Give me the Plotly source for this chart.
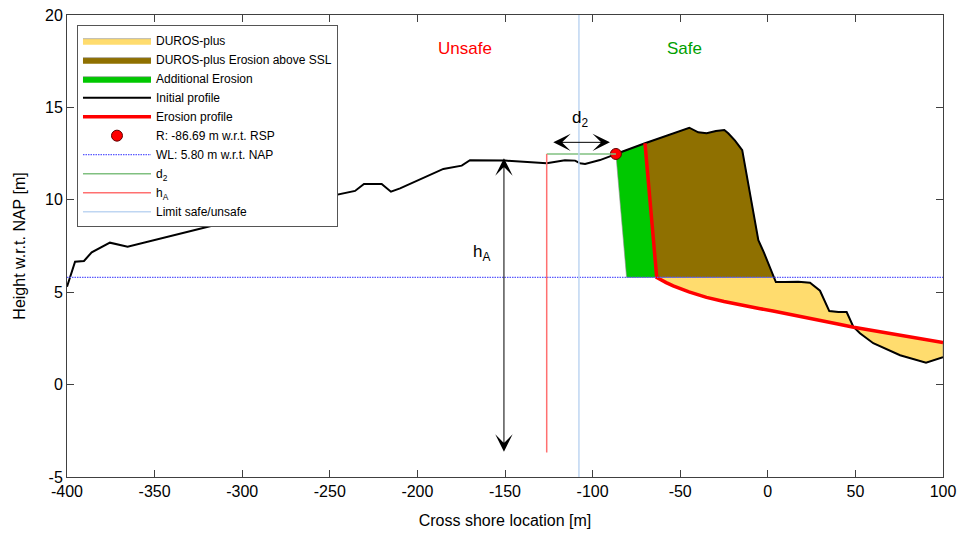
import numpy as np
import plotly.graph_objects as go

# ---------------- data ----------------
profile_x = [-400, -395.4, -390.3, -385.9, -375.5, -365.4, -315.5, -310.8, -289.8, -235.6,
             -230.5, -220.4, -215.1, -209.9, -185.2, -174.7, -170.0, -150.0, -126.2, -115.8,
             -110.0, -107.2, -104.3, -95.8, -88.2, -86.69, -70.1, -44.8, -39.7, -34.9,
             -29.6, -24.8, -22.6, -18.7, -14.6, -5.4, -2.2, 4.6, 9.8, 17.4,
             24.1, 29.8, 35.1, 40.3, 45.0, 48.8, 52.6, 60.2, 75.5, 90.3, 100.0]
profile_y = [5.30, 6.65, 6.69, 7.16, 7.68, 7.46, 8.64, 8.69, 9.39, 10.48,
             10.86, 10.86, 10.44, 10.62, 11.67, 11.85, 12.14, 12.12, 11.98, 12.14,
             12.12, 11.98, 11.94, 12.15, 12.42, 12.48, 13.06, 13.90, 13.65, 13.60,
             13.72, 13.78, 13.60, 13.20, 12.69, 7.82, 7.14, 5.55, 5.55, 5.57,
             5.51, 5.08, 3.98, 3.93, 3.93, 3.13, 2.78, 2.24, 1.59, 1.19, 1.48]

erosion_x = [-70.1, -63.4, -58, -54, -45, -35, -25, -16, -5, 3, 12, 18, 30, 40, 49, 60, 70, 80, 90, 100]
erosion_y = [13.06, 5.80, 5.52, 5.34, 5.02, 4.72, 4.50, 4.31, 4.12, 3.98, 3.82, 3.70, 3.47, 3.28,
             3.10, 2.92, 2.75, 2.59, 2.43, 2.27]

R_x, R_y = -86.69, 12.48          # retreat point
WL = 5.80                          # water level
add_erosion_toe_x = -80.6          # toe of additional erosion at WL
hA_x, hA_bottom = -126.2, -3.68    # h_A line
limit_x = -107.8                   # limit safe/unsafe
hA_arrow_x, hA_arrow_top, hA_arrow_bottom = -150.6, 12.33, -3.63
d2_arrow_y, d2_arrow_left, d2_arrow_right = 13.11, -123.3, -90.1

x_ticks = list(range(-400, 101, 50))
y_ticks = list(range(-5, 21, 5))

# ---------------- derived polygons ----------------
px = np.array(profile_x)
py = np.array(profile_y)
ex = np.array(erosion_x)
ey = np.array(erosion_y)

# crossing of profile with WL seaward of dune
i = np.where((px[:-1] > -20) & (py[:-1] >= WL) & (py[1:] < WL))[0][0]
xc = px[i] + (WL - py[i]) * (px[i + 1] - px[i]) / (py[i + 1] - py[i])

x_top = ex[0]
x_ero_wl = ex[1]

# DUROS-plus (below WL between profile and erosion curve)
m = px > xc
yel_x = [x_ero_wl, xc] + list(px[m]) + list(ex[1:][::-1])
yel_y = [WL, WL] + list(py[m]) + list(ey[1:][::-1])

# Erosion above SSL
m2 = (px >= x_top) & (px < xc)
brn_x = list(px[m2]) + [xc, x_ero_wl, x_top]
brn_y = list(py[m2]) + [WL, WL, ey[0]]

# Additional erosion
m3 = (px >= R_x) & (px <= x_top)
grn_x = list(px[m3]) + [x_ero_wl, add_erosion_toe_x, R_x]
grn_y = list(py[m3]) + [WL, WL, R_y]

fig = go.Figure()

fig.add_trace(go.Scatter(x=yel_x, y=yel_y, fill="toself", fillcolor="#FFDC6E", mode="lines",
                         line=dict(color="#8c8c8c", width=0.6), name="DUROS-plus"))
fig.add_trace(go.Scatter(x=brn_x, y=brn_y, fill="toself", fillcolor="#8F7000", mode="lines",
                         line=dict(color="#8c8c8c", width=0.6), name="DUROS-plus Erosion above SSL"))
fig.add_trace(go.Scatter(x=grn_x, y=grn_y, fill="toself", fillcolor="#00C800", mode="lines",
                         line=dict(color="#8c8c8c", width=0.6), name="Additional Erosion"))
fig.add_trace(go.Scatter(x=profile_x, y=profile_y, mode="lines",
                         line=dict(color="black", width=2), name="Initial profile"))
fig.add_trace(go.Scatter(x=erosion_x, y=erosion_y, mode="lines",
                         line=dict(color="#FF0000", width=3.5), name="Erosion profile"))
fig.add_trace(go.Scatter(x=[R_x], y=[R_y], mode="markers",
                         marker=dict(color="#FF0000", size=11, line=dict(color="#600000", width=1)),
                         name="R: -86.69 m w.r.t. RSP"))
fig.add_trace(go.Scatter(x=[x_ticks[0], x_ticks[-1]], y=[WL, WL], mode="lines",
                         line=dict(color="#5A5AFF", width=1.2, dash="1.5px,1px"),
                         name="WL: 5.80 m w.r.t. NAP"))
fig.add_trace(go.Scatter(x=[hA_x, R_x], y=[R_y, R_y], mode="lines",
                         line=dict(color="#80C080", width=1.5), name="d<sub>2</sub>"))
fig.add_trace(go.Scatter(x=[hA_x, hA_x], y=[R_y, hA_bottom], mode="lines",
                         line=dict(color="#FF7070", width=1.5), name="h<sub>A</sub>"))
fig.add_trace(go.Scatter(x=[limit_x, limit_x], y=[y_ticks[0], y_ticks[-1]], mode="lines",
                         line=dict(color="#BFD6F2", width=1.5), name="Limit safe/unsafe"))

# arrows
arrow_style = dict(xref="x", yref="y", axref="x", ayref="y", text="", showarrow=True,
                   arrowhead=3, startarrowhead=3, arrowside="end+start", arrowsize=2.9,
                   startarrowsize=2.9, arrowwidth=1, arrowcolor="black")
fig.add_annotation(x=hA_arrow_x, y=hA_arrow_bottom, ax=hA_arrow_x, ay=hA_arrow_top, **arrow_style)
fig.add_annotation(x=d2_arrow_right, y=d2_arrow_y, ax=d2_arrow_left, ay=d2_arrow_y, **arrow_style)

fig.add_annotation(x=-163.7, y=7.1, text="h<sub>A</sub>", showarrow=False,
                   font=dict(size=17, color="black"))
fig.add_annotation(x=-107.2, y=14.35, text="d<sub>2</sub>", showarrow=False,
                   font=dict(size=17, color="black"))
fig.add_annotation(x=-172.8, y=18.2, text="Unsafe", showarrow=False,
                   font=dict(size=17, color="#FF0000"))
fig.add_annotation(x=-47.8, y=18.2, text="Safe", showarrow=False,
                   font=dict(size=17, color="#00A000"))

axis_common = dict(showgrid=False, zeroline=False, showline=True, linecolor="#404040",
                   linewidth=1, mirror="ticks", ticks="inside", ticklen=7, tickcolor="#404040",
                   tickfont=dict(size=16, color="black"), automargin=False)

fig.update_xaxes(range=[x_ticks[0], x_ticks[-1]], tickvals=x_ticks,
                 ticktext=[str(v) for v in x_ticks],
                 title=dict(text="Cross shore location [m]", font=dict(size=16, color="black"),
                            standoff=15),
                 **axis_common)
fig.update_yaxes(range=[y_ticks[0], y_ticks[-1]], tickvals=y_ticks,
                 ticktext=[str(v) for v in y_ticks],
                 title=dict(text="Height w.r.t. NAP [m]", font=dict(size=16, color="black")),
                 **axis_common)

fig.update_layout(
    template="none",
    width=963, height=533,
    margin=dict(l=67, r=20, t=15, b=56),
    paper_bgcolor="white", plot_bgcolor="white",
    font=dict(family="Liberation Sans, Arial, sans-serif", color="black"),
    showlegend=True,
    legend=dict(x=0.0114, y=0.978, xanchor="left", yanchor="top",
                bgcolor="white", bordercolor="#555555", borderwidth=1,
                font=dict(size=12, color="black"), tracegroupgap=0, itemwidth=68),
)

fig.write_html("out.html", config={"displayModeBar": False},
               post_script="document.body.style.margin='0px';")
